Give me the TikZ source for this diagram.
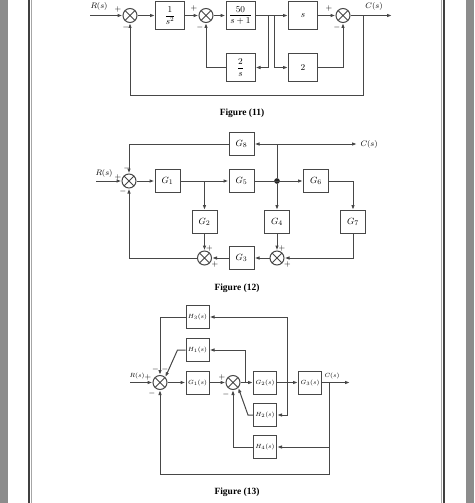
\documentclass[tikz,border=0pt]{standalone}
\usepackage{amsmath}
\usepackage{fontspec}
\setmainfont{Liberation Serif}
\usetikzlibrary{arrows.meta}
\tikzset{
    blk/.style={draw, minimum width=29, minimum height=28, inner sep=1, font=\fontsize{9}{10}\selectfont},
    gblk/.style={draw, minimum width=25, minimum height=23, inner sep=1, font=\fontsize{9.5}{10}\selectfont},
    hblk/.style={draw, minimum width=23, minimum height=23, inner sep=0.5, font=\fontsize{6.5}{7}\selectfont},
    sumx/.style={draw, circle, minimum size=14, inner sep=0,
        path picture={\draw (path picture bounding box.north west) -- (path picture bounding box.south east)
            (path picture bounding box.south west) -- (path picture bounding box.north east);}},
    sig/.style={font=\fontsize{8}{8}\selectfont, inner sep=0},
    lbl/.style={font=\fontsize{8}{9}\selectfont, inner sep=0},
    figcap/.style={font=\bfseries\fontsize{9.5}{10}\selectfont},
    ar/.style={-{Latex[length=5pt,width=3.6pt]}},
}
\begin{document}
\begin{tikzpicture}[x=1pt, y=-1pt, line width=1pt, draw=black!72]
        \useasboundingbox (0,0) rectangle (474,503);
        \fill[black!45] (0,0) rectangle (8,503);
        \fill[black!45] (466,0) rectangle (474,503);
        \draw[line width=1.6pt, black!75] (29,0) -- (29,503);
        \draw[line width=0.8pt, black!35] (31.5,0) -- (31.5,503);
        \draw[line width=1.6pt, black!75] (444,0) -- (444,503);
        \draw[line width=0.8pt, black!35] (441.5,0) -- (441.5,503);
        % Figure (11)
        \node[lbl] (r1) at (99,7) {$R(s)$} ;
        \coordinate (in1) at (90,15.5) ;
        \node[sumx] (s1) at (130,15.5) {} ;
        \node[blk] (b1) at (170,15.5) {$\dfrac{1}{s^2}$} ;
        \node[sumx] (s2) at (206,15.5) {} ;
        \node[blk] (b2) at (240.5,15.5) {$\dfrac{50}{s+1}$} ;
        \node[blk] (b3) at (303,15.5) {$s$} ;
        \node[sumx] (s3) at (343,15.5) {} ;
        \node[blk] (b4) at (240.5,67.5) {$\dfrac{2}{s}$} ;
        \node[blk] (b5) at (303,67.5) {$2$} ;
        \coordinate (j1) at (268,15.5) ;
        \coordinate (j2) at (274,15.5) ;
        \coordinate (o1) at (363,15.5) ;
        \coordinate (e1) at (392,15.5) ;
        \node[lbl] (c1) at (374,7) {$C(s)$} ;
        \draw[ar] (in1) -- (s1) ;
        \draw[ar] (s1) -- (b1) ;
        \draw[ar] (b1) -- (s2) ;
        \draw[ar] (s2) -- (b2) ;
        \draw[ar] (b2) -- (b3) ;
        \draw[ar] (b3) -- (s3) ;
        \draw[ar] (s3) -- (e1) ;
        \draw[ar] (j1) |- (b4) ;
        \draw[ar] (j2) |- (b5) ;
        \draw[ar] (b4) -| (s2) ;
        \draw[ar] (b5) -| (s3) ;
        \draw[ar] (o1) -- ++(0,79.5) -| (s1) ;
        \node[sig] at (118,10) {$+$} ;
        \node[sig] at (126,28) {$-$} ;
        \node[sig] at (194,9) {$+$} ;
        \node[sig] at (200,28) {$-$} ;
        \node[sig] at (329,9) {$+$} ;
        \node[sig] at (337,28) {$-$} ;
        \node[figcap] (f11) at (242,113) {Figure (11)} ;
        % Figure (12)
        \node[sumx] (sa) at (129,181) {} ;
        \node[lbl] (r2) at (104,173) {$R(s)$} ;
        \coordinate (in2) at (96,181) ;
        \node[gblk] (g1) at (167.5,181) {$G_1$} ;
        \node[gblk] (g5) at (241.5,181) {$G_5$} ;
        \node[gblk] (g6) at (316,181) {$G_6$} ;
        \node[gblk] (g8) at (241.5,144) {$G_8$} ;
        \node[gblk] (g2) at (204.5,222) {$G_2$} ;
        \node[gblk] (g4) at (277,222) {$G_4$} ;
        \node[gblk] (g7) at (353,222) {$G_7$} ;
        \node[sumx] (sb) at (204.5,258) {} ;
        \node[sumx] (sc) at (277,258) {} ;
        \node[gblk] (g3) at (241.5,258) {$G_3$} ;
        \coordinate (k1) at (204.5,181) ;
        \node[circle, fill=black!85, inner sep=2pt] (dot) at (277,181) {} ;
        \coordinate (k2) at (277,144) ;
        \coordinate (e2) at (357,144) ;
        \node[lbl, anchor=west] (c2) at (360,144) {$C(s)$} ;
        \draw[ar] (in2) -- (sa) ;
        \draw[ar] (sa) -- (g1) ;
        \draw[ar] (g1) -- (g5) ;
        \draw[ar] (k1) -- (g2) ;
        \draw[ar] (g5) -- (g6) ;
        \draw[ar] (dot) -- (g4) ;
        \draw (dot) -- (k2) ;
        \draw[ar] (k2) -- (g8) ;
        \draw[ar] (k2) -- (e2) ;
        \draw[ar] (g6) -| (g7) ;
        \draw[ar] (g7) |- (sc) ;
        \draw[ar] (g4) -- (sc) ;
        \draw[ar] (sc) -- (g3) ;
        \draw[ar] (g3) -- (sb) ;
        \draw[ar] (g2) -- (sb) ;
        \draw[ar] (sb) -| (sa) ;
        \draw[ar] (g8) -| (sa) ;
        \node[sig] at (127,168) {$-$} ;
        \node[sig] at (118,177) {$+$} ;
        \node[sig] at (123,191) {$-$} ;
        \node[sig] at (209.5,248) {$+$} ;
        \node[sig] at (215,264) {$+$} ;
        \node[sig] at (282,248) {$+$} ;
        \node[sig] at (287.5,264) {$+$} ;
        \node[figcap] (f12) at (237,288) {Figure (12)} ;
        % Figure (13)
        \node[sumx] (sd) at (160,382.5) {} ;
        \node[lbl, font=\fontsize{6.5}{7}\selectfont] (r3) at (137,376) {$R(s)$} ;
        \coordinate (in3) at (130,382.5) ;
        \node[hblk] (h3) at (197.5,317) {$H_3(s)$} ;
        \node[hblk] (h1) at (197.5,350) {$H_1(s)$} ;
        \node[hblk] (gg1) at (197.5,382.5) {$G_1(s)$} ;
        \node[sumx] (se) at (233,382.5) {} ;
        \node[hblk] (gg2) at (265,382.5) {$G_2(s)$} ;
        \node[hblk] (gg3) at (310,382.5) {$G_3(s)$} ;
        \node[hblk] (h2) at (265,415) {$H_2(s)$} ;
        \node[hblk] (h4) at (265,447) {$H_4(s)$} ;
        \coordinate (m1) at (245,382.5) ;
        \coordinate (m2) at (287,382.5) ;
        \coordinate (m3) at (329,382.5) ;
        \coordinate (e3) at (350,382.5) ;
        \node[lbl, font=\fontsize{6.5}{7}\selectfont] (c3) at (332,376) {$C(s)$} ;
        \draw[ar] (in3) -- (sd) ;
        \draw[ar] (sd) -- (gg1) ;
        \draw[ar] (gg1) -- (se) ;
        \draw[ar] (se) -- (gg2) ;
        \draw[ar] (gg2) -- (gg3) ;
        \draw[ar] (gg3) -- (e3) ;
        \draw[ar] (m2) |- (h3) ;
        \draw[ar] (h3) -| (sd) ;
        \draw[ar] (m1) |- (h1) ;
        \draw[ar] (h1.west) -- ++(-8,0) -- (sd.north east) ;
        \draw[ar] (m2) |- (h2) ;
        \draw[ar] (h2.west) -- ++(-5,0) -- (se.south east) ;
        \draw[ar] (m3) |- (h4) ;
        \draw[ar] (h4) -| (se) ;
        \draw[ar] (m3) -- ++(0,91.5) -| (sd) ;
        \node[sig] at (148,377) {$+$} ;
        \node[sig] at (155.5,369) {$-$} ;
        \node[sig] at (165,369) {$-$} ;
        \node[sig] at (152,393) {$-$} ;
        \node[sig] at (222,377) {$+$} ;
        \node[sig] at (226,394) {$-$} ;
        \node[figcap] (f13) at (237,492) {Figure (13)} ;
    \end{tikzpicture}
\end{document}
